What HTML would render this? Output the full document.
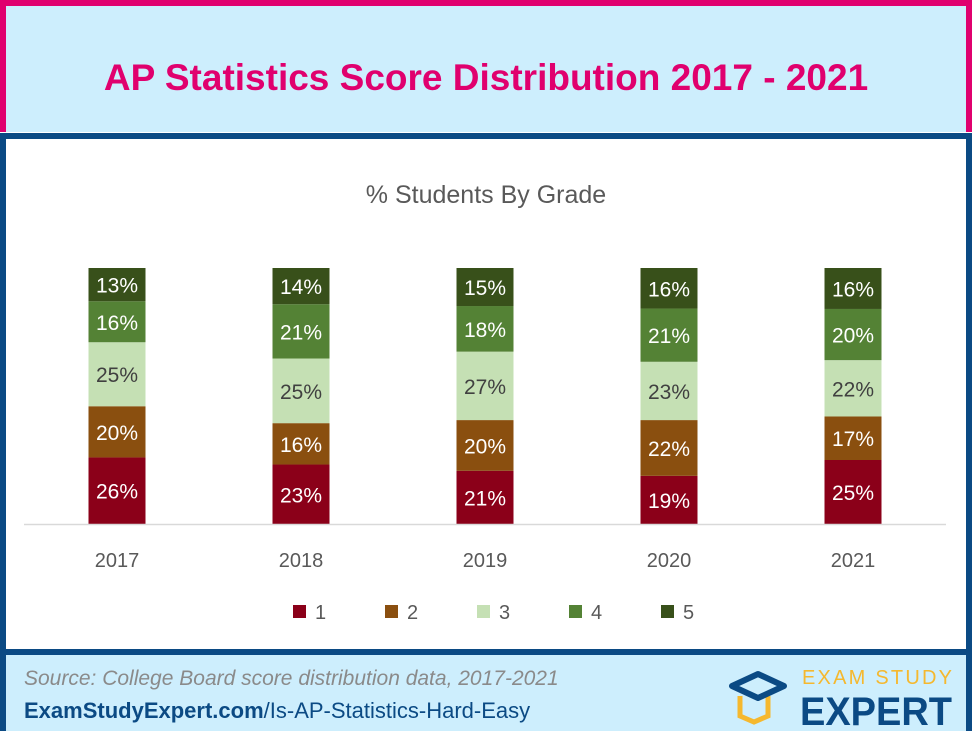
<!DOCTYPE html>
<html><head><meta charset="utf-8">
<style>
html,body{margin:0;padding:0;}
body{width:972px;height:731px;position:relative;overflow:hidden;background:#fff;font-family:"Liberation Sans",sans-serif;}
#header{position:absolute;left:0;top:0;width:960px;height:126px;border:6px solid #e0006e;border-bottom:none;background:#cdeefd;}
#title{position:absolute;left:0;top:0;width:960px;text-align:center;line-height:144px;font-size:37px;font-weight:bold;color:#e0006e;}
#main{position:absolute;left:0;top:133px;width:960px;height:586px;border:6px solid #0b4a84;background:#fff;}
#footer{position:absolute;left:0;top:510px;width:960px;height:76px;border-top:6px solid #0b4a84;background:#cdeefd;}
#src{position:absolute;left:18px;top:12px;font-size:21px;font-style:italic;color:#8a8a8a;}
#link{position:absolute;left:18px;top:43px;font-size:22px;color:#0b4a84;}
svg text{font-family:"Liberation Sans",sans-serif;}
</style></head><body>
<div id="header"><div id="title">AP Statistics Score Distribution 2017 - 2021</div></div>
<div id="main">
<svg id="chart" width="960" height="510" style="position:absolute;left:0;top:0"></svg>
<div id="footer">
<div id="src">Source: College Board score distribution data, 2017-2021</div>
<div id="link"><b>ExamStudyExpert.com</b>/Is-AP-Statistics-Hard-Easy</div>
<svg width="240" height="70" style="position:absolute;left:720px;top:3px">
<path d="M14 38 L14 58 L28 64 L42 58 L42 38" fill="none" stroke="#f5b82e" stroke-width="5"/>
<path d="M6 28 L32 16 L58 28 L32 40 Z" fill="none" stroke="#0b4a84" stroke-width="6" stroke-linejoin="round"/>
<text x="76" y="26" font-size="20" fill="#f5b82e" textLength="150" lengthAdjust="spacing">EXAM STUDY</text>
<text x="74" y="67" font-size="40" font-weight="bold" fill="#0b4a84" textLength="152" lengthAdjust="spacingAndGlyphs">EXPERT</text>
</svg>
</div>
</div>
<script>
const years=["2017","2018","2019","2020","2021"];
const grades=["1","2","3","4","5"];
const g1=[26,23,21,19,25];
const g2=[20,16,20,22,17];
const g3=[25,25,27,23,22];
const g4=[16,21,18,21,20];
const g5=[13,14,15,16,16];
const series=[g1,g2,g3,g4,g5];
const colors=["#8b0019","#8a4f0f","#c5e0b4","#548235","#38501a"];
const textCols=["#fff","#fff","#404040","#fff","#fff"];
const NS="http://www.w3.org/2000/svg";
const svg=document.getElementById('chart');
function mk(t,a){const e=document.createElementNS(NS,t);for(const k in a)e.setAttribute(k,a[k]);svg.appendChild(e);return e;}
const baseY=385, plotH=256, x0=117-6, step=184, bw=57;
function xC(i){return x0+i*step;}
function yS(frac){return baseY-frac*plotH;}
let t=mk('text',{x:480,y:64,'text-anchor':'middle','font-size':25,fill:'#595959'});
t.textContent='% Students By Grade';


years.forEach((yr,i)=>{
  let total=0;series.forEach(s=>total+=s[i]);
  let cum=0;
  series.forEach((s,k)=>{
    const y1=yS(cum/total), y2=yS((cum+s[i])/total);
    const r=mk('rect',{x:xC(i)-bw/2,y:y2,width:bw,height:y1-y2,fill:colors[k]});
    
    
    const l=mk('text',{x:xC(i),y:(y1+y2)/2+8,'text-anchor':'middle','font-size':21,fill:textCols[k]});
    l.textContent=s[i]+'%';
    
    
    cum+=s[i];
  });
  const xl=mk('text',{x:xC(i),y:428,'text-anchor':'middle','font-size':20,fill:'#595959'});
  xl.textContent=yr;
  
  
});
const ax=mk('line',{x1:18,x2:940,y1:baseY+0.5,y2:baseY+0.5,stroke:'#d9d9d9','stroke-width':1.5});


grades.forEach((g,k)=>{
  const lx=293+k*92-6;
  const r=mk('rect',{x:lx,y:466,width:13,height:13,fill:colors[k]});
  
  
  const lt=mk('text',{x:lx+22,y:480,'font-size':20,fill:'#595959'});
  lt.textContent=g;
  
  
});
</script>
</body></html>
